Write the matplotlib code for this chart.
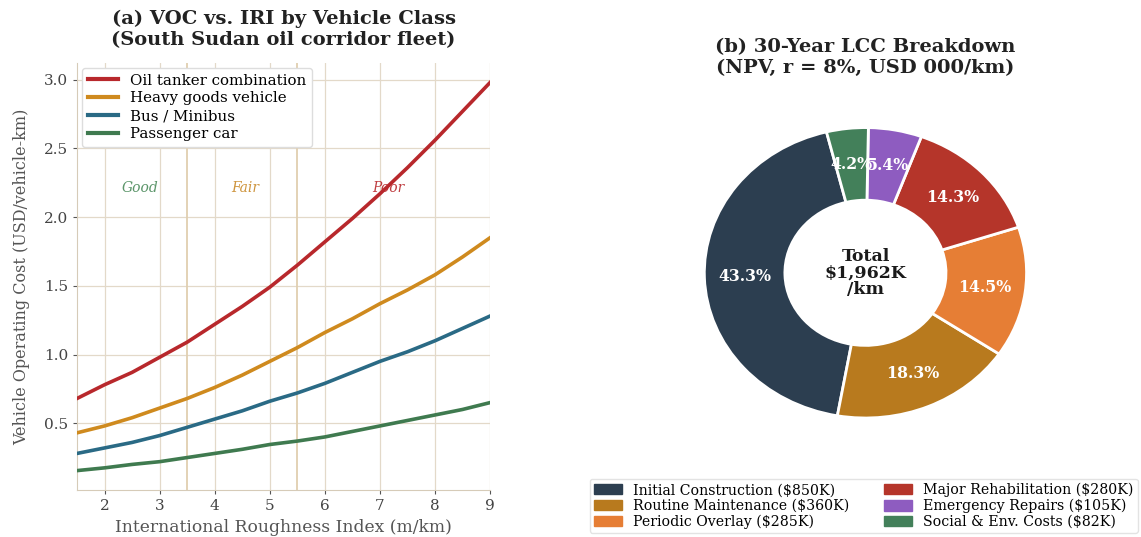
import numpy as np
import matplotlib.pyplot as plt

plt.rcParams['font.family'] = ['DejaVu Serif']

# IRI (m/km) and VOC (USD/vehicle-km) per vehicle class
iri = [1.5, 2.0, 2.5, 3.0, 3.5, 4.0, 4.5, 5.0, 5.5, 6.0, 6.5, 7.0, 7.5, 8.0, 8.5, 9.0]
voc_tanker = [0.68, 0.78, 0.87, 0.98, 1.09, 1.22, 1.35, 1.49, 1.65, 1.82, 1.99, 2.17, 2.36, 2.56, 2.77, 2.98]
voc_hgv = [0.43, 0.48, 0.54, 0.61, 0.68, 0.76, 0.85, 0.95, 1.05, 1.16, 1.26, 1.37, 1.47, 1.58, 1.71, 1.85]
voc_bus = [0.28, 0.32, 0.36, 0.41, 0.47, 0.53, 0.59, 0.66, 0.72, 0.79, 0.87, 0.95, 1.02, 1.10, 1.19, 1.28]
voc_car = [0.155, 0.175, 0.20, 0.22, 0.25, 0.28, 0.31, 0.345, 0.37, 0.40, 0.44, 0.48, 0.52, 0.56, 0.60, 0.65]
series_names = ['Oil tanker combination', 'Heavy goods vehicle', 'Bus / Minibus', 'Passenger car']
series_colors = ['#b8282c', '#cf8a1e', '#2a6a85', '#3f7a4f']

condition_labels = ['Good', 'Fair', 'Poor']
condition_x = [2.65, 4.55, 7.15]
condition_colors = ['#4a8a5a', '#c98a2a', '#b8282c']
condition_bounds = [3.5, 5.5]

# 30-year LCC components (USD 000/km)
lcc_labels = ['Initial Construction', 'Routine Maintenance', 'Periodic Overlay',
              'Major Rehabilitation', 'Emergency Repairs', 'Social & Env. Costs']
lcc_values = [850, 360, 285, 280, 105, 82]
lcc_colors = ['#2c3e50', '#b87a1e', '#e67e35', '#b5352a', '#8e5cc0', '#43805a']

fig = plt.figure(figsize=(11.41, 5.37), dpi=100)

# ---- (a) VOC vs IRI
ax1 = fig.add_axes([0.0675, 0.0875, 0.362, 0.795])
for vals, name, col in zip([voc_tanker, voc_hgv, voc_bus, voc_car], series_names, series_colors):
    ax1.plot(iri, vals, color=col, lw=2.6, label=name, zorder=3)
for b in condition_bounds:
    ax1.axvline(b, color='#e0cfb0', lw=1.3, zorder=1)
for lab, xx, col in zip(condition_labels, condition_x, condition_colors):
    ax1.text(xx, 2.21, lab, color=col, style='italic', fontsize=10,
             ha='center', va='center', alpha=0.9, zorder=2)
ax1.set_xlim(1.5, 9)
ax1.margins(x=0)
ax1.grid(True, color='#e3d9c9', lw=0.9, zorder=0)
ax1.set_axisbelow(True)
for s in ['top', 'right']:
    ax1.spines[s].set_visible(False)
for s in ['left', 'bottom']:
    ax1.spines[s].set_color('#d6cbb8')
ax1.tick_params(colors='#555555', labelsize=11, length=3)
ax1.tick_params(axis='both', labelcolor='#444444')
ax1.set_xlabel('International Roughness Index (m/km)', fontsize=12.3, color='#555555')
ax1.set_ylabel('Vehicle Operating Cost (USD/vehicle-km)', fontsize=11.5, color='#555555',
               labelpad=10)
ax1.set_title('(a) VOC vs. IRI by Vehicle Class\n(South Sudan oil corridor fleet)',
              fontsize=14, fontweight='bold', color='#222222', pad=13, linespacing=1.22)
leg = ax1.legend(loc='upper left', fontsize=10.8, frameon=True, framealpha=1,
                 handlelength=2.0, borderaxespad=0.3, labelspacing=0.25)
leg.get_frame().set_edgecolor('#dddddd')
for h in leg.get_lines():
    h.set_linewidth(3)

# ---- (b) LCC donut
ax2 = fig.add_axes([0.582, 0.154, 0.353, 0.676])
wedges, texts, autotexts = ax2.pie(
    lcc_values, colors=lcc_colors, startangle=104, counterclock=True,
    autopct='%1.1f%%', pctdistance=0.75,
    wedgeprops=dict(width=0.5, edgecolor='white', linewidth=2),
    textprops=dict(color='white', fontsize=11.3, fontweight='bold'))
ax2.set_aspect('auto')
ax2.set_xlim(-1.25, 1.25)
ax2.set_ylim(-1.25, 1.25)
total = sum(lcc_values)
ax2.text(0, 0, f'Total\n${total:,}K\n/km', ha='center', va='center',
         fontsize=12.5, fontweight='bold', color='#1a1a1a', linespacing=0.95)
ax2.set_title('(b) 30-Year LCC Breakdown\n(NPV, r = 8%, USD 000/km)',
              fontsize=14, fontweight='bold', color='#222222', pad=13, linespacing=1.22)
handles = [plt.Rectangle((0, 0), 1, 1, color=c) for c in lcc_colors]
leg_labels = [f'{l} (${v}K)' for l, v in zip(lcc_labels, lcc_values)]
fig.legend(handles, leg_labels, ncol=2, fontsize=10.2, loc='upper center',
           bbox_to_anchor=(0.757, 0.122), frameon=True, edgecolor='#dddddd',
           handlelength=2.0, handleheight=0.75, handletextpad=0.8, columnspacing=2.4,
           labelspacing=0.12, borderpad=0.3)

fig.savefig('out.png', dpi=100, facecolor='white')
